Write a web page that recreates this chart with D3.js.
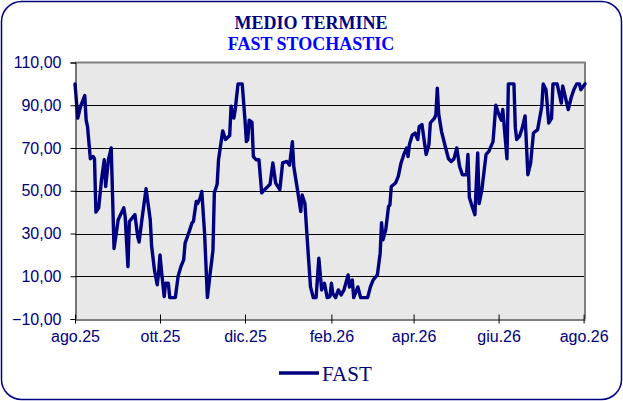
<!DOCTYPE html>
<html lang="it">
  <head>
    <meta charset="utf-8">
    <title>Medio termine - Fast Stochastic</title>
    <script src="https://cdn.jsdelivr.net/npm/d3@7"></script>
    <style>
      body { margin: 0; background: #fff; }
    </style>
  </head>
  <body>
    <script type="text/javascript">

    var w = 623;
    var h = 401;

    // chart data
    var dates = [
      "2025-08-01","2025-08-03","2025-08-05","2025-08-08","2025-08-09","2025-08-10","2025-08-12","2025-08-14","2025-08-15","2025-08-16",
      "2025-08-18","2025-08-20","2025-08-22","2025-08-23","2025-08-25","2025-08-27","2025-08-29","2025-09-01","2025-09-05","2025-09-06",
      "2025-09-08","2025-09-09","2025-09-13","2025-09-15","2025-09-16","2025-09-18","2025-09-21","2025-09-24","2025-09-25","2025-09-27",
      "2025-09-29","2025-09-30","2025-10-01","2025-10-02","2025-10-04","2025-10-05","2025-10-07","2025-10-08","2025-10-12","2025-10-14",
      "2025-10-16","2025-10-18","2025-10-19","2025-10-22","2025-10-24","2025-10-25","2025-10-27","2025-10-28","2025-10-30","2025-10-31",
      "2025-11-02","2025-11-04","2025-11-06","2025-11-08","2025-11-09","2025-11-11","2025-11-12","2025-11-15","2025-11-17","2025-11-20",
      "2025-11-21","2025-11-23","2025-11-24","2025-11-26","2025-11-29","2025-12-01","2025-12-02","2025-12-03","2025-12-04","2025-12-06",
      "2025-12-07","2025-12-09","2025-12-11","2025-12-13","2025-12-15","2025-12-19","2025-12-21","2025-12-23","2025-12-26","2025-12-28",
      "2025-12-31","2026-01-02","2026-01-04","2026-01-05","2026-01-08","2026-01-10","2026-01-11","2026-01-13","2026-01-15","2026-01-17",
      "2026-01-19","2026-01-21","2026-01-23","2026-01-25","2026-01-27","2026-01-29","2026-01-31","2026-02-01","2026-02-02","2026-02-04",
      "2026-02-06","2026-02-08","2026-02-10","2026-02-13","2026-02-14","2026-02-16","2026-02-17","2026-02-20","2026-02-22","2026-02-27",
      "2026-03-01","2026-03-03","2026-03-06","2026-03-08","2026-03-09","2026-03-10","2026-03-12","2026-03-14","2026-03-15","2026-03-16",
      "2026-03-19","2026-03-21","2026-03-23","2026-03-25","2026-03-27","2026-03-28","2026-03-29","2026-03-31","2026-04-02","2026-04-04",
      "2026-04-05","2026-04-07","2026-04-10","2026-04-12","2026-04-13","2026-04-16","2026-04-17","2026-04-18","2026-04-19","2026-04-21",
      "2026-04-24","2026-04-26","2026-04-28","2026-04-30","2026-05-02","2026-05-04","2026-05-06","2026-05-09","2026-05-10","2026-05-11",
      "2026-05-13","2026-05-15","2026-05-17","2026-05-18","2026-05-20","2026-05-23","2026-05-25","2026-05-28","2026-05-30","2026-06-01",
      "2026-06-03","2026-06-04","2026-06-07","2026-06-08","2026-06-12","2026-06-13","2026-06-14","2026-06-16","2026-06-18","2026-06-20",
      "2026-06-22","2026-06-24","2026-06-26","2026-06-29","2026-07-02","2026-07-03","2026-07-05","2026-07-07","2026-07-09","2026-07-10",
      "2026-07-13","2026-07-16","2026-07-17","2026-07-21","2026-07-23","2026-07-25","2026-07-27","2026-07-29","2026-07-30","2026-08-02"
    ];
    var fast = [
      100, 84, 89.5, 94.5, 83, 80, 65, 66, 65, 40,
      42, 55, 64.5, 52, 64.5, 70, 23, 36.4, 42, 38,
      14.5, 35.6, 38.8, 28.6, 26, 36.4, 51, 36.4, 24, 13,
      6, 11.4, 20, 13, 0.5, 6.7, 6.7, 0, 0, 10,
      14.5, 17.7, 25.5, 31, 35, 35.6, 45, 44, 47, 49.7,
      30, 0, 11.4, 22, 49, 53, 64.5, 78, 74, 75.8,
      89.5, 84, 88, 100, 100, 83, 73, 74, 83, 82,
      66, 64.5, 64.5, 49, 50.5, 53, 63, 53.6, 50.5, 63,
      63.7, 62, 73, 61.4, 49, 40.3, 48, 44, 24, 5,
      0, 0, 18.4, 3.6, 6.7, 0, 0.5, 6.7, 2, 0,
      3.6, 1.2, 3.6, 10.6, 5, 8.3, 0, 5, 0, 0,
      5, 8.3, 10.6, 20.8, 35, 27, 31.7, 42.6, 43.4, 52,
      53.6, 56.7, 63, 67, 70, 66, 71.6, 76, 77, 74,
      80, 81, 67, 71.6, 81.7, 84, 85.6, 98, 86, 77.8,
      70, 65, 63.7, 65, 70, 61.4, 57.5, 57.5, 67, 47,
      42.6, 38.8, 67.7, 44, 50.5, 67, 68.4, 73, 90, 86,
      83, 88, 65, 100, 100, 79.4, 74, 75.5, 79.4, 85,
      57.5, 63, 77, 78.6, 89.5, 100, 97.3, 81.7, 84, 100,
      100, 91, 99, 88, 93.4, 97.3, 100, 100, 97.3, 100
    ];
    var yTicks = [-10, 10, 30, 50, 70, 90, 110];
    var xTickDates = ["2025-08-01","2025-10-01","2025-12-01","2026-02-01","2026-04-01","2026-06-01","2026-08-01"];
    var xTickLabels = ["ago.25","ott.25","dic.25","feb.26","apr.26","giu.26","ago.26"];

    var parse = d3.timeParse("%Y-%m-%d");
    var data = dates.map(function(d, i) { return { date: parse(d), v: fast[i] }; });

    var navy = "#000080";
    var pL = 75, pR = 585, pT = 62.5, pB = 319;

    var svg = d3.select("body").append("svg").attr("width", w).attr("height", h);

    // outer rounded frame
    svg.append("rect").attr("x", 1.5).attr("y", 1.5).attr("width", w - 3).attr("height", h - 3)
      .attr("rx", 20).attr("ry", 20).attr("fill", "#fff").attr("stroke", navy).attr("stroke-width", 1.5);

    // titles
    svg.append("text").text("MEDIO TERMINE").attr("x", 311).attr("y", 28.5)
      .attr("text-anchor", "middle").attr("font-family", "'Liberation Serif', 'Times New Roman', serif")
      .attr("font-weight", "bold").attr("font-size", "18px").attr("fill", navy);
    svg.append("text").text("FAST STOCHASTIC").attr("x", 311).attr("y", 50)
      .attr("text-anchor", "middle").attr("font-family", "'Liberation Serif', 'Times New Roman', serif")
      .attr("font-weight", "bold").attr("font-size", "18px").attr("fill", "#0000ff");

    var x = d3.scaleTime().domain([parse("2025-08-01"), parse("2026-08-02")]).range([pL, pR]);
    var y = d3.scaleLinear().domain([-10, 110]).range([pB, pT]);

    // plot area
    svg.append("rect").attr("x", pL).attr("y", pT).attr("width", pR - pL).attr("height", pB - pT)
      .attr("fill", "#e8e8e8");

    // gridlines
    svg.selectAll("line.grid").data(yTicks.slice(1, -1)).enter().append("line").attr("class", "grid")
      .attr("x1", pL).attr("x2", pR)
      .attr("y1", function(d) { return Math.round(y(d)) + 0.5; })
      .attr("y2", function(d) { return Math.round(y(d)) + 0.5; })
      .attr("stroke", "#000").attr("stroke-width", 1);

    // gray top / right border
    svg.append("path").attr("d", "M" + pL + "," + pT + "H" + pR + "V" + pB)
      .attr("fill", "none").attr("stroke", "#808080").attr("stroke-width", 2);

    // series
    var line = d3.line().x(function(d) { return x(d.date); }).y(function(d) { return y(d.v); });
    svg.append("path").datum(data).attr("d", line).attr("fill", "none")
      .attr("stroke", navy).attr("stroke-width", 3.4).attr("stroke-linejoin", "round").attr("stroke-linecap", "round");

    // y axis
    var comma = d3.formatLocale({ decimal: ",", thousands: ".", grouping: [3], currency: ["", "€"] }).format(".2f");
    var yAxis = svg.append("g").attr("transform", "translate(" + (pL + 0.5) + ",0)")
      .call(d3.axisLeft(y).tickValues(yTicks).tickFormat(comma).tickSize(5).tickPadding(9));
    yAxis.selectAll("text").attr("font-family", "'Liberation Sans', Arial, sans-serif").attr("font-size", "16px").attr("fill", navy);

    // x axis
    var xAxis = svg.append("g").attr("transform", "translate(0," + (pB + 0.5) + ")")
      .call(d3.axisBottom(x).tickValues(xTickDates.map(parse))
        .tickFormat(function(d, i) { return xTickLabels[i]; }).tickSizeInner(4).tickSizeOuter(0).tickPadding(7));
    xAxis.selectAll(".tick line").attr("y1", -5);
    xAxis.selectAll("text").attr("font-family", "'Liberation Sans', Arial, sans-serif").attr("font-size", "16px").attr("fill", navy);
    svg.selectAll(".domain").attr("stroke", "#000");

    // legend
    svg.append("line").attr("x1", 279).attr("x2", 319).attr("y1", 373).attr("y2", 373)
      .attr("stroke", navy).attr("stroke-width", 3.5);
    svg.append("text").text("FAST").attr("x", 322).attr("y", 380.5)
      .attr("font-family", "'Liberation Serif', 'Times New Roman', serif").attr("font-size", "21px").attr("fill", navy);

    </script>
  </body>
</html>
